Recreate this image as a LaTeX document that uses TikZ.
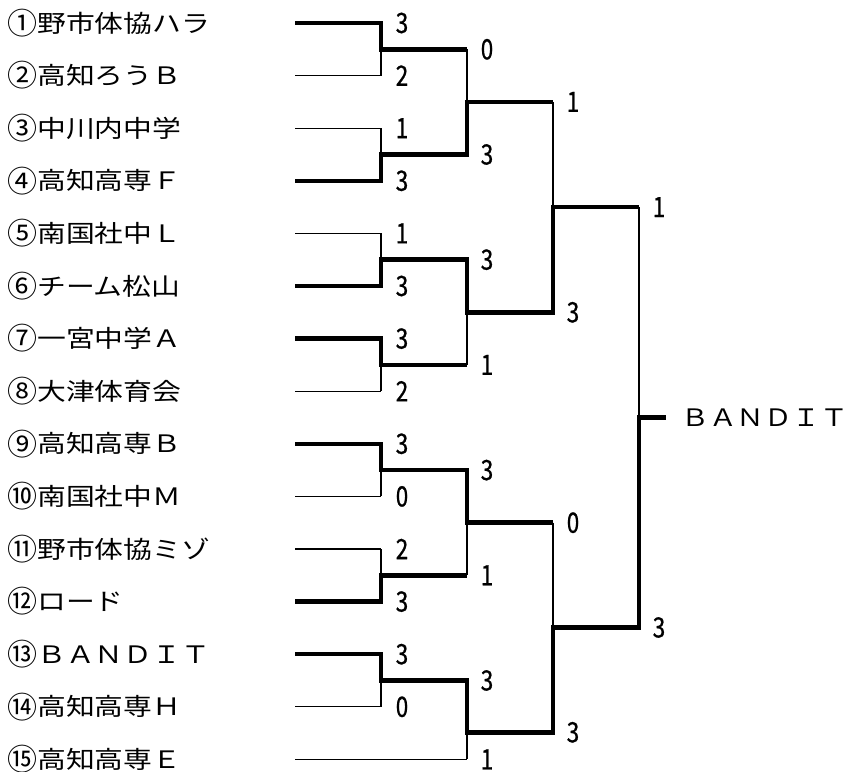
\documentclass[tikz,border=0pt]{standalone}
\usepackage{fontspec}
\usetikzlibrary{calc}
\newfontfamily\jp[FakeStretch=1.2]{Noto Sans CJK JP}
\newfontfamily\jpc[FakeStretch=1.16]{Noto Sans CJK JP}
\newfontfamily\jpcirc{Noto Sans CJK JP}
\newfontfamily\jpnum[FakeStretch=0.8,FakeBold=0.8]{Noto Sans CJK JP}
\newcommand{\circnum}[1]{\raisebox{-2.2pt}{\jpcirc\fontsize{30}{30}\selectfont #1}}
\begin{document}
\begin{tikzpicture}[x=1pt,y=-1pt,
  thinl/.style={line width=1.1pt},
  win/.style={line width=4.5pt, line join=miter},
  team/.style={anchor=base west, inner sep=0pt, font=\jp\fontsize{24}{28}\selectfont},
  champstyle/.style={anchor=base west, inner sep=0pt, font=\jpc\fontsize{24}{28}\selectfont},
  score/.style={inner sep=0pt, font=\jpnum\fontsize{28}{30}\selectfont}]
\useasboundingbox (0,0) rectangle (848,771);
% rows
\foreach \i/\y in {1/23,2/75.6,3/128.2,4/180.8,5/233.4,6/286,7/338.6,8/391.2,9/443.8,10/496.4,11/549,12/601.6,13/654.2,14/706.8}{
  \coordinate (s\i) at (295,\y);
  \coordinate (e\i) at (381,\y);
}
\coordinate (s15) at (295,759.4);
\coordinate (e15) at (467,759.4);
% round 1 outputs
\foreach \k/\y in {1/49.3,2/154.5,3/259.7,4/364.9,5/470.1,6/575.3,7/680.5}{
  \coordinate (p\k) at (381,\y);
  \coordinate (q\k) at (467,\y);
}
% round 2 outputs
\foreach \k/\y in {1/101.9,2/312.3,3/522.7,4/732.3}{
  \coordinate (a\k) at (467,\y);
  \coordinate (b\k) at (553,\y);
}
% round 3 outputs
\coordinate (c1) at (553,207.1);
\coordinate (d1) at (639,207.1);
\coordinate (c2) at (553,627.5);
\coordinate (d2) at (639,627.5);
% final
\coordinate (f) at (639,417.3);
\coordinate (g) at (666,417.3);

% thin bracket
\foreach \i in {1,...,15}{ \draw[thinl] (s\i) -- (e\i); }
\foreach \k/\u/\l in {1/1/2,2/3/4,3/5/6,4/7/8,5/9/10,6/11/12,7/13/14}{
  \draw[thinl] (e\u) -- (e\l);
  \draw[thinl] (p\k) -- (q\k);
}
\draw[thinl] (q1) -- (q2);
\draw[thinl] (q3) -- (q4);
\draw[thinl] (q5) -- (q6);
\draw[thinl] (q7) -- (e15);
\foreach \k in {1,...,4}{ \draw[thinl] (a\k) -- (b\k); }
\draw[thinl] (b1) -- (b2);
\draw[thinl] (b3) -- (b4);
\draw[thinl] (c1) -- (d1);
\draw[thinl] (c2) -- (d2);
\draw[thinl] (d1) -- (d2);
\draw[thinl] (f) -- (g);

% winners
\draw[win] (s1) -- (e1) -- (p1) -- (q1);
\draw[win] (s4) -- (e4) -- (p2) -- (q2) -- (a1) -- (b1);
\draw[win] (s6) -- (e6) -- (p3) -- (q3) -- (a2) -- (b2) -- (c1) -- (d1);
\draw[win] (s7) -- (e7) -- (p4) -- (q4);
\draw[win] (s9) -- (e9) -- (p5) -- (q5) -- (a3) -- (b3);
\draw[win] (s12) -- (e12) -- (p6) -- (q6);
\draw[win] (s13) -- (e13) -- (p7) -- (q7) -- (a4) -- (b4) -- (c2) -- (d2) -- (f) -- (g);

% team names
\foreach \i/\n/\t in {1/①/野市体協ハラ,2/②/高知ろうＢ,3/③/中川内中学,4/④/高知高専Ｆ,5/⑤/南国社中Ｌ,6/⑥/チーム松山,7/⑦/一宮中学Ａ,8/⑧/大津体育会,9/⑨/高知高専Ｂ,10/⑩/南国社中Ｍ,11/⑪/野市体協ミゾ,12/⑫/ロード,13/⑬/ＢＡＮＤＩＴ,14/⑭/高知高専Ｈ,15/⑮/高知高専Ｅ}{
  \node[team] (t\i) at ($(s\i)+(-288,9)$) {\circnum{\n}\t};
}
\node[champstyle] (champ) at ($(g)+(15,9)$) {ＢＡＮＤＩＴ};

% round 1 scores
\foreach \i/\v in {1/3,2/2,3/1,4/3,5/1,6/3,7/3,8/2,9/3,10/0,11/2,12/3,13/3,14/0}{
  \node[score] (r1s\i) at ($(e\i)+(21,0)$) {\v};
}
% round 2 scores
\foreach \k/\v in {1/0,2/3,3/3,4/1,5/3,6/1,7/3}{
  \node[score] (r2s\k) at ($(q\k)+(20,0)$) {\v};
}
\node[score] (r2s8) at ($(e15)+(20,0)$) {1};
% round 3 scores
\foreach \k/\v in {1/1,2/3,3/0,4/3}{
  \node[score] (r3s\k) at ($(b\k)+(20,0)$) {\v};
}
% final scores
\node[score] (r4s1) at ($(d1)+(20,0)$) {1};
\node[score] (r4s2) at ($(d2)+(20,0)$) {3};
\end{tikzpicture}
\end{document}
